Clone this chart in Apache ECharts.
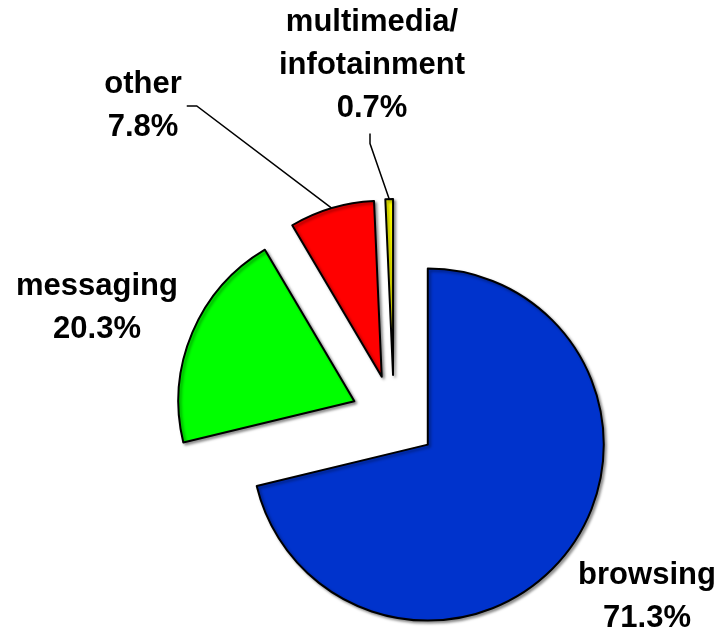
<!DOCTYPE html>
<html>
<head>
<meta charset="utf-8">
<title>Traffic share by service</title>
<script src="https://cdn.jsdelivr.net/npm/echarts@6/dist/echarts.min.js"></script>
<style>
  html, body { margin: 0; padding: 0; background: #ffffff; }
  #chart { width: 723px; height: 632px; }
</style>
</head>
<body>
<div id="chart"></div>
<script>
// Share of traffic per service category (percent)
const categories = ['browsing', 'messaging', 'other', 'multimedia/\ninfotainment'];
const shares = [71.3, 20.3, 7.8, 0.7];
const sliceColors = ['#0033CC', '#00FF00', '#FF0000', '#FFFF00'];

// Pie geometry
const pieCenter = [394, 418];
const pieRadius = 176;
const explode = 43;

// Where each label block sits, and how its leader line meets it
const labelSpots = [[647, 597], [97, 308], [143, 106], [372, 65]];
const leaderKind = [null, null, 'side', 'below'];

const chart = echarts.init(document.getElementById('chart'), null, { renderer: 'canvas' });

const labelFont = {
  fontFamily: '"Liberation Sans", Arial, sans-serif',
  fontWeight: 'bold',
  fontSize: 31,
  lineHeight: 43,
  color: '#000000',
  align: 'center'
};

chart.setOption({
  animation: false,
  series: [
    {
      // exploded slices
      type: 'pie',
      center: pieCenter,
      radius: [0, pieRadius],
      startAngle: 90,
      clockwise: true,
      selectedMode: 'multiple',
      selectedOffset: explode,
      emphasis: { disabled: true },
      silent: true,
      itemStyle: {
        borderColor: '#000000',
        borderWidth: 2,
        shadowColor: 'rgba(0,0,0,0.4)',
        shadowBlur: 3,
        shadowOffsetX: 2,
        shadowOffsetY: 2
      },
      label: { show: false },
      labelLine: { show: false },
      data: categories.map((name, i) => ({
        name: name,
        value: shares[i],
        selected: true,
        itemStyle: { color: sliceColors[i] }
      }))
    },
    {
      // labels and leader lines for the same slices
      type: 'pie',
      center: pieCenter,
      radius: [0, pieRadius],
      startAngle: 90,
      clockwise: true,
      silent: true,
      avoidLabelOverlap: false,
      emphasis: { disabled: true },
      itemStyle: { color: 'rgba(0,0,0,0)', borderWidth: 0 },
      label: Object.assign({
        show: true,
        position: 'outside',
        formatter: p => p.name + '\n' + p.value + '%'
      }, labelFont),
      labelLine: {
        show: true,
        lineStyle: { color: '#000000', width: 1.5 }
      },
      labelLayout: function (params) {
        const i = params.dataIndex;
        const x = labelSpots[i][0];
        const y = labelSpots[i][1];
        const w = params.labelRect.width;
        const h = params.labelRect.height;
        const out = { x: x, y: y, align: 'center', verticalAlign: 'middle' };
        const pts = params.labelLinePoints;
        if (pts && leaderKind[i]) {
          // push the arc anchor outward by the explode distance
          const ax = pts[0][0] - pieCenter[0];
          const ay = pts[0][1] - pieCenter[1];
          const len = Math.sqrt(ax * ax + ay * ay) || 1;
          const anchor = [pts[0][0] + ax / len * explode, pts[0][1] + ay / len * explode];
          let end, bend;
          if (leaderKind[i] === 'side') {
            end = [x + w / 2 + 5, y];
            bend = [end[0] + 10, end[1]];
          } else {
            end = [x - 2, y + h / 2 + 4];
            bend = [end[0], end[1] + 10];
          }
          out.labelLinePoints = [anchor, bend, end];
        }
        return out;
      },
      data: categories.map((name, i) => ({
        name: name,
        value: shares[i],
        labelLine: { show: leaderKind[i] !== null }
      }))
    }
  ]
});
</script>
</body>
</html>
